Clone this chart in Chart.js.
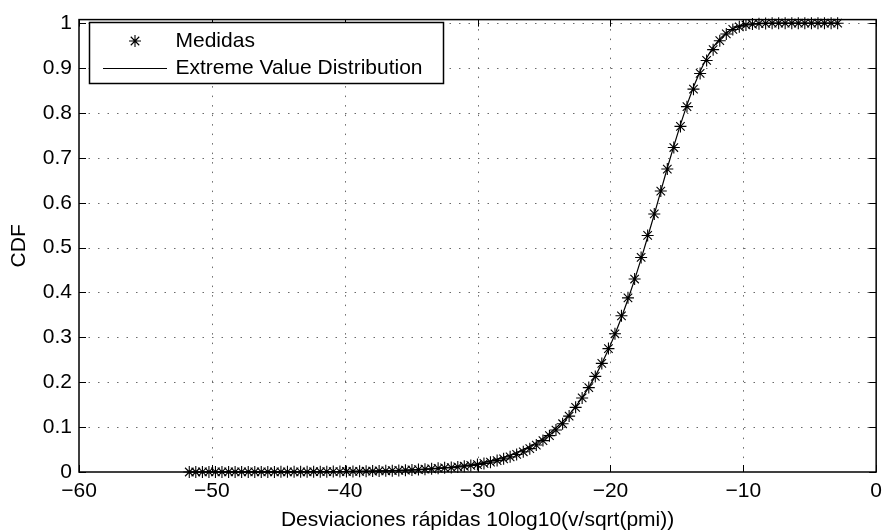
<!DOCTYPE html>
<html>
<head>
<meta charset="utf-8">
<script src="https://cdn.jsdelivr.net/npm/chart.js@4/dist/chart.umd.min.js"></script>
<style>
  html, body { margin: 0; padding: 0; background: #ffffff; }
  #wrap { width: 889px; height: 531px; position: relative; }
</style>
</head>
<body>
<div id="wrap"><canvas id="cdf"></canvas></div>
<script>
// Sample positions (dB)
const xs = [
  -51.70, -51.21, -50.71, -50.22, -49.73, -49.24, -48.74, -48.25, -47.76, -47.26,
  -46.77, -46.28, -45.79, -45.29, -44.80, -44.31, -43.81, -43.32, -42.83, -42.34,
  -41.84, -41.35, -40.86, -40.36, -39.87, -39.38, -38.88, -38.39, -37.90, -37.41,
  -36.91, -36.42, -35.93, -35.43, -34.94, -34.45, -33.96, -33.46, -32.97, -32.48,
  -31.98, -31.49, -31.00, -30.51, -30.01, -29.52, -29.03, -28.53, -28.04, -27.55,
  -27.06, -26.56, -26.07, -25.58, -25.08, -24.59, -24.10, -23.60, -23.11, -22.62,
  -22.13, -21.63, -21.14, -20.65, -20.15, -19.66, -19.17, -18.68, -18.18, -17.69,
  -17.20, -16.70, -16.21, -15.72, -15.23, -14.73, -14.24, -13.75, -13.25, -12.76,
  -12.27, -11.77, -11.28, -10.79, -10.30, -9.80, -9.31, -8.82, -8.32, -7.83,
  -7.34, -6.85, -6.35, -5.86, -5.37, -4.87, -4.38, -3.89, -3.39, -2.90
];

// Measured CDF
const medidas = [
  0.0000, 0.0000, 0.0001, 0.0001, 0.0001, 0.0001, 0.0001, 0.0001, 0.0001, 0.0001,
  0.0002, 0.0002, 0.0002, 0.0002, 0.0003, 0.0003, 0.0004, 0.0004, 0.0005, 0.0006,
  0.0006, 0.0007, 0.0009, 0.0010, 0.0011, 0.0013, 0.0015, 0.0017, 0.0020, 0.0023,
  0.0026, 0.0030, 0.0035, 0.0040, 0.0046, 0.0053, 0.0062, 0.0071, 0.0081, 0.0094,
  0.0098, 0.0112, 0.0128, 0.0146, 0.0166, 0.0191, 0.0220, 0.0254, 0.0293, 0.0338,
  0.0391, 0.0451, 0.0520, 0.0600, 0.0700, 0.0810, 0.0935, 0.1075, 0.1245, 0.1440,
  0.1650, 0.1880, 0.2130, 0.2420, 0.2750, 0.3080, 0.3480, 0.3880, 0.4300, 0.4780,
  0.5270, 0.5750, 0.6260, 0.6750, 0.7230, 0.7700, 0.8140, 0.8530, 0.8880, 0.9170,
  0.9410, 0.9610, 0.9760, 0.9860, 0.9920, 0.9960, 0.9980, 0.9990, 0.9995, 1.0000,
  1.0000, 1.0000, 1.0000, 1.0000, 1.0000, 1.0000, 1.0000, 1.0000, 1.0000, 1.0000
];

// Fitted extreme value distribution
const evd = [
  0.0000, 0.0000, 0.0001, 0.0001, 0.0001, 0.0001, 0.0001, 0.0001, 0.0001, 0.0001,
  0.0002, 0.0002, 0.0002, 0.0002, 0.0003, 0.0003, 0.0004, 0.0004, 0.0005, 0.0006,
  0.0006, 0.0007, 0.0009, 0.0010, 0.0011, 0.0013, 0.0015, 0.0017, 0.0020, 0.0023,
  0.0026, 0.0030, 0.0035, 0.0040, 0.0046, 0.0053, 0.0062, 0.0071, 0.0081, 0.0094,
  0.0108, 0.0124, 0.0143, 0.0164, 0.0189, 0.0217, 0.0249, 0.0286, 0.0329, 0.0378,
  0.0434, 0.0498, 0.0571, 0.0654, 0.0749, 0.0858, 0.0981, 0.1121, 0.1279, 0.1457,
  0.1659, 0.1885, 0.2137, 0.2417, 0.2727, 0.3070, 0.3444, 0.3849, 0.4285, 0.4749,
  0.5236, 0.5741, 0.6257, 0.6774, 0.7260, 0.7740, 0.8180, 0.8580, 0.8930, 0.9225,
  0.9465, 0.9650, 0.9790, 0.9880, 0.9935, 0.9970, 0.9988, 0.9995, 0.9999, 1.0000,
  1.0000, 1.0000, 1.0000, 1.0000, 1.0000, 1.0000, 1.0000, 1.0000, 1.0000, 1.0000
];

const xTicks = [-60, -50, -40, -30, -20, -10, 0];
const yTicks = [0, 0.1, 0.2, 0.3, 0.4, 0.5, 0.6, 0.7, 0.8, 0.9, 1];
const xTickLabels = ['\u221260', '\u221250', '\u221240', '\u221230', '\u221220', '\u221210', '0'];
const yTickLabels = ['0', '0.1', '0.2', '0.3', '0.4', '0.5', '0.6', '0.7', '0.8', '0.9', '1'];

const FONT = "'Liberation Sans', Arial, Helvetica, sans-serif";
const FS = 21;

// Dotted grid drawn under the data
const gridPlugin = {
  id: 'dottedGrid',
  beforeDatasetsDraw(chart) {
    const { ctx, chartArea: a, scales: { x, y } } = chart;
    ctx.save();
    ctx.strokeStyle = '#6a6a6a';
    ctx.lineWidth = 1;
    ctx.setLineDash([1.5, 8]);
    xTicks.forEach(v => {
      if (v === xTicks[0] || v === xTicks[xTicks.length - 1]) return;
      const px = Math.round(x.getPixelForValue(v)) + 0.5;
      ctx.beginPath(); ctx.moveTo(px, a.top); ctx.lineTo(px, a.bottom); ctx.stroke();
    });
    yTicks.forEach(v => {
      if (v === 0) return;
      const py = Math.round(y.getPixelForValue(v)) + 0.5;
      ctx.beginPath(); ctx.moveTo(a.left, py); ctx.lineTo(a.right, py); ctx.stroke();
    });
    ctx.restore();
  },
  afterDatasetsDraw(chart) {
    // Axes box with inward tick marks on all four sides
    const { ctx, chartArea: a, scales: { x, y } } = chart;
    const tl = 7;
    ctx.save();
    ctx.strokeStyle = '#000';
    ctx.lineWidth = 1.5;
    ctx.setLineDash([]);
    ctx.strokeRect(a.left, a.top, a.right - a.left, a.bottom - a.top);
    ctx.lineWidth = 1;
    ctx.beginPath();
    xTicks.forEach(v => {
      const px = Math.round(x.getPixelForValue(v)) + 0.5;
      ctx.moveTo(px, a.bottom); ctx.lineTo(px, a.bottom - tl);
      ctx.moveTo(px, a.top); ctx.lineTo(px, a.top + tl);
    });
    yTicks.forEach(v => {
      const py = Math.round(y.getPixelForValue(v)) + 0.5;
      ctx.moveTo(a.left, py); ctx.lineTo(a.left + tl, py);
      ctx.moveTo(a.right, py); ctx.lineTo(a.right - tl, py);
    });
    ctx.stroke();
    ctx.restore();
  },
  afterDraw(chart) {
    // Legend box in the upper-left corner
    const { ctx } = chart;
    const ds = chart.data.datasets;
    const bx = 89.5, by = 22.5, bw = 354, bh = 61;
    ctx.save();
    ctx.fillStyle = '#fff';
    ctx.fillRect(bx, by, bw, bh);
    ctx.strokeStyle = '#000';
    ctx.lineWidth = 1.5;
    ctx.strokeRect(bx, by, bw, bh);

    // asterisk sample
    const cx = 135, cy = 41, r = 6;
    ctx.lineWidth = 1.1;
    ctx.beginPath();
    for (let k = 0; k < 4; k++) {
      const ang = k * Math.PI / 4;
      ctx.moveTo(cx - r * Math.cos(ang), cy - r * Math.sin(ang));
      ctx.lineTo(cx + r * Math.cos(ang), cy + r * Math.sin(ang));
    }
    ctx.stroke();

    // line sample
    ctx.lineWidth = 1;
    ctx.beginPath();
    ctx.moveTo(103, 68.5); ctx.lineTo(167, 68.5);
    ctx.stroke();

    ctx.fillStyle = '#000';
    ctx.font = FS + 'px ' + FONT;
    ctx.textAlign = 'left';
    ctx.textBaseline = 'middle';
    ctx.fillText(ds[0].label, 175.5, 41.5);
    ctx.fillText(ds[1].label, 175.5, 68.5);
    ctx.restore();
  }
};

new Chart(document.getElementById('cdf'), {
  type: 'scatter',
  data: {
    datasets: [
      {
        label: 'Medidas',
        data: xs.map((v, i) => ({ x: v, y: medidas[i] })),
        showLine: false,
        pointStyle: 'star',
        pointRadius: 6,
        pointBorderColor: '#000',
        pointBackgroundColor: '#000',
        pointBorderWidth: 1.1,
        clip: false,
        order: 1
      },
      {
        label: 'Extreme Value Distribution',
        data: xs.map((v, i) => ({ x: v, y: evd[i] })),
        showLine: true,
        borderColor: '#000',
        borderWidth: 1.2,
        pointRadius: 0,
        tension: 0,
        clip: false,
        order: 0
      }
    ]
  },
  options: {
    responsive: true,
    maintainAspectRatio: false,
    animation: false,
    devicePixelRatio: 1,
    layout: { padding: { top: 13, right: 6, left: 0, bottom: 0 } },
    plugins: { legend: { display: false }, tooltip: { enabled: false } },
    scales: {
      x: {
        type: 'linear',
        min: -60,
        max: 0,
        afterBuildTicks: s => { s.ticks = xTicks.map(v => ({ value: v })); },
        afterFit: s => { s.height = 59; },
        grid: { display: false, drawTicks: false },
        border: { display: false },
        ticks: {
          padding: 7,
          maxRotation: 0,
          autoSkip: false,
          color: '#000',
          font: { family: FONT, size: FS },
          callback: v => xTickLabels[xTicks.indexOf(v)]
        },
        title: {
          display: true,
          text: 'Desviaciones rápidas 10log10(v/sqrt(pmi))',
          color: '#000',
          font: { family: FONT, size: FS, lineHeight: 1 },
          padding: { top: 0, bottom: 0 }
        }
      },
      y: {
        type: 'linear',
        min: 0,
        max: 1.008,
        afterBuildTicks: s => { s.ticks = yTicks.map(v => ({ value: v })); },
        afterFit: s => { s.width = 79; },
        grid: { display: false, drawTicks: false },
        border: { display: false },
        ticks: {
          padding: 7,
          autoSkip: false,
          color: '#000',
          font: { family: FONT, size: FS },
          callback: v => yTickLabels[yTicks.indexOf(v)]
        },
        title: {
          display: true,
          text: 'CDF',
          color: '#000',
          font: { family: FONT, size: FS, lineHeight: 1 },
          padding: { top: 9, bottom: 0 }
        }
      }
    }
  },
  plugins: [gridPlugin]
});
</script>
</body>
</html>
